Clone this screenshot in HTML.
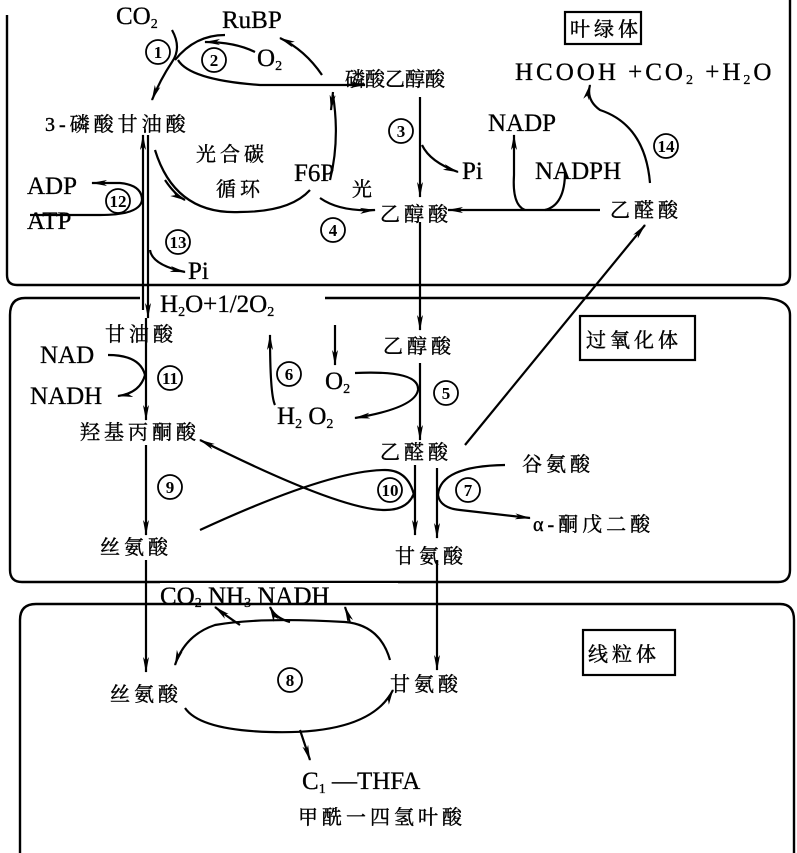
<!DOCTYPE html>
<html><head><meta charset="utf-8"><style>
html,body{margin:0;padding:0;background:#fff}
svg{display:block}
.l{font-family:"Liberation Serif",serif;font-size:25px;fill:#000;stroke:#000;stroke-width:0.3}
.c{font-family:"Liberation Serif","Noto Serif CJK SC",serif;font-size:20px;fill:#000;letter-spacing:4px;stroke:#000;stroke-width:0.4}
.n{font-family:"Liberation Serif",serif;font-size:17px;fill:#000;text-anchor:middle;font-weight:bold}
.s{font-size:14px}
</style></head><body>
<svg width="797" height="853" viewBox="0 0 797 853" xmlns="http://www.w3.org/2000/svg">
<defs>
<marker id="a" markerWidth="16" markerHeight="8" refX="15" refY="4" orient="auto" markerUnits="userSpaceOnUse">
<path d="M0,1 L16,4 L0,7 L4,4 Z" fill="#000"/></marker>
</defs>
<g fill="none" stroke="#000" stroke-width="2.4">
<path d="M7,15 V275 Q7,285 17,285 H780 Q790,285 790,275 V0"/>
<path d="M325,298 H760 Q790,298 790,315 V570 Q790,582 778,582 H22 Q10,582 10,570 V315 Q10,298 25,298 H140"/>
<path d="M20,853 V620 Q20,604 36,604 H780 Q794,604 794,620 V853"/>
<rect x="565" y="12" width="76" height="32" stroke-width="2.2"/>
<rect x="580" y="316" width="115" height="44" stroke-width="2.2"/>
<rect x="583" y="630" width="92" height="45" stroke-width="2.2"/>
</g>
<g fill="none" stroke="#000" stroke-width="2.2">
<path d="M172,30 Q182,48 172,62 Q160,80 152,100" marker-end="url(#a)"/>
<path d="M175,60 Q195,35 225,35" />
<path d="M255,52 Q235,42 205,42" marker-end="url(#a)"/>
<path d="M322,75 Q305,50 280,38" marker-end="url(#a)"/>
<path d="M178,60 Q190,80 260,85 L365,85" marker-end="url(#a)"/>
<path d="M333,95 Q340,140 330,180" />
<path d="M333,92 L331,110" marker-end="url(#a)"/>
<path d="M155,150 Q175,215 240,212 Q290,212 310,190" />
<path d="M165,180 Q175,195 185,200" marker-end="url(#a)"/>
<path d="M320,198 Q340,212 375,210" marker-end="url(#a)"/>
<path d="M143,310 V135" marker-end="url(#a)"/>
<path d="M148,135 V318" marker-end="url(#a)"/>
<path d="M150,250 Q152,265 185,272" marker-end="url(#a)"/>
<path d="M30,215 H100 Q140,215 142,200 Q142,185 120,183 L92,183" marker-end="url(#a)"/>
<path d="M420,97 V197" marker-end="url(#a)"/>
<path d="M422,145 Q430,162 458,172" marker-end="url(#a)"/>
<path d="M600,210 H448" marker-end="url(#a)"/>
<path d="M565,172 Q565,205 545,210 M525,210 Q512,205 514,175 L514,135" marker-end="url(#a)"/>
<path d="M650,183 Q645,125 600,110 Q586,100 590,85" marker-end="url(#a)"/>
<path d="M465,445 L645,225" marker-end="url(#a)"/>
<path d="M420,222 V330" marker-end="url(#a)"/>
<path d="M146,345 V420" marker-end="url(#a)"/>
<path d="M108,355 Q140,355 145,375 Q140,393 118,396" marker-end="url(#a)"/>
<path d="M146,445 V535" marker-end="url(#a)"/>
<path d="M146,560 V672" marker-end="url(#a)"/>
<path d="M146,318 V345"/>
<path d="M275,405 Q270,395 270,335" marker-end="url(#a)"/>
<path d="M335,325 V365" marker-end="url(#a)"/>
<path d="M355,373 Q420,370 418,390 Q415,408 355,418" marker-end="url(#a)"/>
<path d="M420,363 V440" marker-end="url(#a)"/>
<path d="M415,465 V535" marker-end="url(#a)"/>
<path d="M437,468 V538" marker-end="url(#a)"/>
<path d="M415,500 Q410,470 385,470 Q330,470 200,530" />
<path d="M415,490 Q410,510 385,510 Q340,510 200,440" marker-end="url(#a)"/>
<path d="M505,465 Q440,466 438,495 Q440,508 460,510 L530,518" marker-end="url(#a)"/>
<path d="M437,560 V670" marker-end="url(#a)"/>
<path d="M390,660 Q380,625 345,622 Q260,617 215,625 Q185,635 175,665" marker-end="url(#a)"/>
<path d="M240,625 Q225,615 215,607" marker-end="url(#a)"/>
<path d="M290,622 Q275,618 270,607" marker-end="url(#a)"/>
<path d="M350,623 Q348,615 345,607" marker-end="url(#a)"/>
<path d="M185,708 Q200,730 270,732 Q370,735 393,690" marker-end="url(#a)"/>
<path d="M300,730 Q305,745 310,760" marker-end="url(#a)"/>
</g>
<text class="l" x="116" y="24">CO<tspan class="s" dy="4">2</tspan></text>
<text class="l" x="222" y="28">RuBP</text>
<text class="l" x="257" y="66">O<tspan class="s" dy="4">2</tspan></text>
<text class="c" x="345" y="86" style="letter-spacing:0">磷酸乙醇酸</text>
<text class="c" x="570" y="36">叶绿体</text>
<text class="l" x="515" y="80" style="letter-spacing:3px">HCOOH +CO<tspan class="s" dy="4">2</tspan><tspan dy="-4"> +H</tspan><tspan class="s" dy="4">2</tspan><tspan dy="-4">O</tspan></text>
<text class="c" x="45" y="131">3-磷酸甘油酸</text>
<text class="l" x="462" y="179">Pi</text>
<text class="l" x="488" y="131">NADP</text>
<text class="l" x="535" y="179">NADPH</text>
<text class="c" x="196" y="161">光合碳</text>
<text class="c" x="216" y="196">循环</text>
<text class="l" x="294" y="181">F6P</text>
<text class="c" x="352" y="196">光</text>
<text class="l" x="27" y="194">ADP</text>
<text class="l" x="27" y="229">ATP</text>
<text class="c" x="380" y="221">乙醇酸</text>
<text class="c" x="610" y="217">乙醛酸</text>
<text class="l" x="188" y="279">Pi</text>
<text class="l" x="160" y="312">H<tspan class="s" dy="4">2</tspan><tspan dy="-4">O+1/2O</tspan><tspan class="s" dy="4">2</tspan></text>
<text class="c" x="105" y="341">甘油酸</text>
<text class="c" x="383" y="353">乙醇酸</text>
<text class="c" x="586" y="347">过氧化体</text>
<text class="l" x="40" y="363">NAD</text>
<text class="l" x="325" y="389">O<tspan class="s" dy="4">2</tspan></text>
<text class="l" x="30" y="404">NADH</text>
<text class="l" x="277" y="424">H<tspan class="s" dy="4">2</tspan><tspan dy="-4"> O</tspan><tspan class="s" dy="4">2</tspan></text>
<text class="c" x="80" y="439">羟基丙酮酸</text>
<text class="c" x="380" y="459">乙醛酸</text>
<text class="c" x="522" y="471">谷氨酸</text>
<text class="c" x="533" y="531">α-酮戊二酸</text>
<text class="c" x="100" y="554">丝氨酸</text>
<text class="c" x="395" y="563">甘氨酸</text>
<rect x="160" y="583" width="238" height="19" fill="#fff"/>
<text class="l" x="160" y="604">CO<tspan class="s" dy="3">2</tspan><tspan dy="-3"> NH</tspan><tspan class="s" dy="3">3</tspan><tspan dy="-3">  NADH</tspan></text>
<text class="c" x="588" y="661">线粒体</text>
<text class="c" x="110" y="701">丝氨酸</text>
<text class="c" x="390" y="691">甘氨酸</text>
<text class="l" x="302" y="789">C<tspan class="s" dy="4">1</tspan><tspan dy="-4"> —THFA</tspan></text>
<text class="c" x="298" y="824">甲酰一四氢叶酸</text>
<g fill="none" stroke="#000" stroke-width="1.8">
<circle cx="158" cy="52" r="12"/><circle cx="214" cy="60" r="12"/><circle cx="401" cy="131" r="12"/>
<circle cx="666" cy="146" r="12"/><circle cx="118" cy="201" r="12"/><circle cx="333" cy="230" r="12"/>
<circle cx="178" cy="242" r="12"/><circle cx="170" cy="378" r="12"/><circle cx="289" cy="374" r="12"/>
<circle cx="446" cy="393" r="12"/><circle cx="170" cy="487" r="12"/><circle cx="390" cy="490" r="12"/>
<circle cx="468" cy="490" r="12"/><circle cx="290" cy="680" r="12"/>
</g>
<g>
<text class="n" x="158" y="58">1</text><text class="n" x="214" y="66">2</text><text class="n" x="401" y="137">3</text>
<text class="n" x="666" y="152">14</text><text class="n" x="118" y="207">12</text><text class="n" x="333" y="236">4</text>
<text class="n" x="178" y="248">13</text><text class="n" x="170" y="384">11</text><text class="n" x="289" y="380">6</text>
<text class="n" x="446" y="399">5</text><text class="n" x="170" y="493">9</text><text class="n" x="390" y="496">10</text>
<text class="n" x="468" y="496">7</text><text class="n" x="290" y="686">8</text>
</g>
</svg>
</body></html>
